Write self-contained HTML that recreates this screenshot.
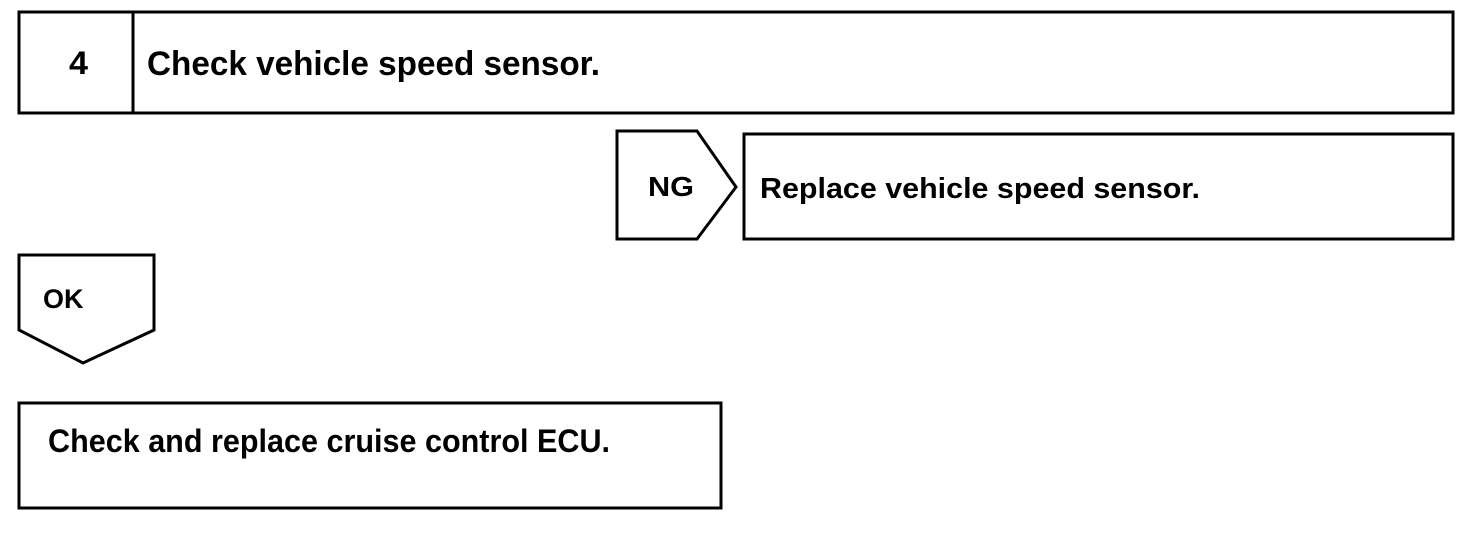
<!DOCTYPE html>
<html><head><style>html,body{margin:0;padding:0;background:#fff;}svg{display:block;}</style></head>
<body>
<svg width="1472" height="536" viewBox="0 0 1472 536" xmlns="http://www.w3.org/2000/svg">
<g fill="none" stroke="#000" stroke-width="3">
<rect x="19" y="12" width="1434" height="101"/>
<line x1="133" y1="12" x2="133" y2="113"/>
<polygon points="617,131 697,131 736,187 697,239 617,239"/>
<rect x="744" y="134" width="709" height="105"/>
<polygon points="19,255 154,255 154,330 83,363 19,330"/>
<rect x="19" y="403" width="702" height="105"/>
</g>
<g font-family="Liberation Sans, sans-serif" font-weight="bold" fill="#000">
<text x="69" y="74" font-size="32" textLength="19" lengthAdjust="spacingAndGlyphs">4</text>
<text x="147" y="75" font-size="34" textLength="453" lengthAdjust="spacingAndGlyphs">Check vehicle speed sensor.</text>
<text x="648" y="196" font-size="28" textLength="46" lengthAdjust="spacingAndGlyphs">NG</text>
<text x="760" y="198" font-size="29" textLength="440" lengthAdjust="spacingAndGlyphs">Replace vehicle speed sensor.</text>
<text x="43" y="308" font-size="27">OK</text>
<text x="48" y="452" font-size="32" textLength="562" lengthAdjust="spacingAndGlyphs">Check and replace cruise control ECU.</text>
</g>
</svg>
</body></html>
